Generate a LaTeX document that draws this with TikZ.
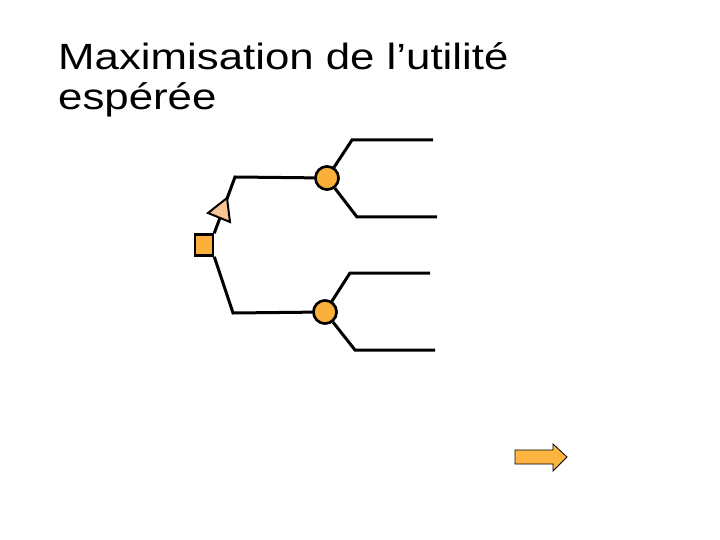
\documentclass[tikz,border=0pt]{standalone}
\usepackage{fontspec}
\setmainfont{Liberation Sans}
\definecolor{nodeorange}{HTML}{FBB03B}
\definecolor{peach}{HTML}{F9C596}
\definecolor{arroworange}{HTML}{FDB441}
\begin{document}
\begin{tikzpicture}[x=1pt,y=-1pt,
  branch/.style={line width=3pt, line join=miter},
  decision/.style={draw, line width=2.5pt, fill=nodeorange, minimum width=18pt, minimum height=21pt, inner sep=0pt},
  chance/.style={draw, circle, line width=2.5pt, fill=nodeorange, minimum size=23pt, inner sep=0pt},
  titletext/.style={anchor=base west, inner sep=0pt, font=\fontsize{36.5}{40}\selectfont}]
\useasboundingbox (0,0) rectangle (720,540);
\fill[white] (0,0) rectangle (720,540);
% title
\node[titletext] (title1) at (58,70) {\scalebox{1.2}[1]{Maximisation de l’utilité}};
\node[titletext] (title2) at (58,110) {\scalebox{1.2}[1]{espérée}};
% coordinates
\coordinate (b1) at (235,177);
\coordinate (b2) at (233,313);
\coordinate (u1) at (352,140);
\coordinate (u1e) at (433,140);
\coordinate (u2) at (357,217);
\coordinate (u2e) at (437,217);
\coordinate (l1) at (350,273);
\coordinate (l1e) at (430,273);
\coordinate (l2) at (355,350);
\coordinate (l2e) at (435,350);
% nodes
\node[decision] (sq) at (204,245) {};
\node[chance] (c1) at (327,178) {};
\node[chance] (c2) at (325,312) {};
% branches
\draw[branch] (sq.north east) -- (b1) -- (c1);
\draw[branch] (sq.south east) -- (b2) -- (c2);
\draw[branch] (c1) -- (u1) -- (u1e);
\draw[branch] (c1) -- (u2) -- (u2e);
\draw[branch] (c2) -- (l1) -- (l1e);
\draw[branch] (c2) -- (l2) -- (l2e);
% redraw nodes on top
\node[decision] at (sq) {};
\node[chance] at (c1) {};
\node[chance] at (c2) {};
% triangle marker
\draw[line width=2pt, fill=peach, line join=miter] (208,213) -- (227,198) -- (230,222) -- cycle;
% block arrow
\draw[line width=0.8pt, fill=arroworange, line join=miter]
  (515,450) -- (553,450) -- (553,444) -- (567,457) -- (553,471) -- (553,464) -- (515,464) -- cycle;
\end{tikzpicture}
\end{document}
